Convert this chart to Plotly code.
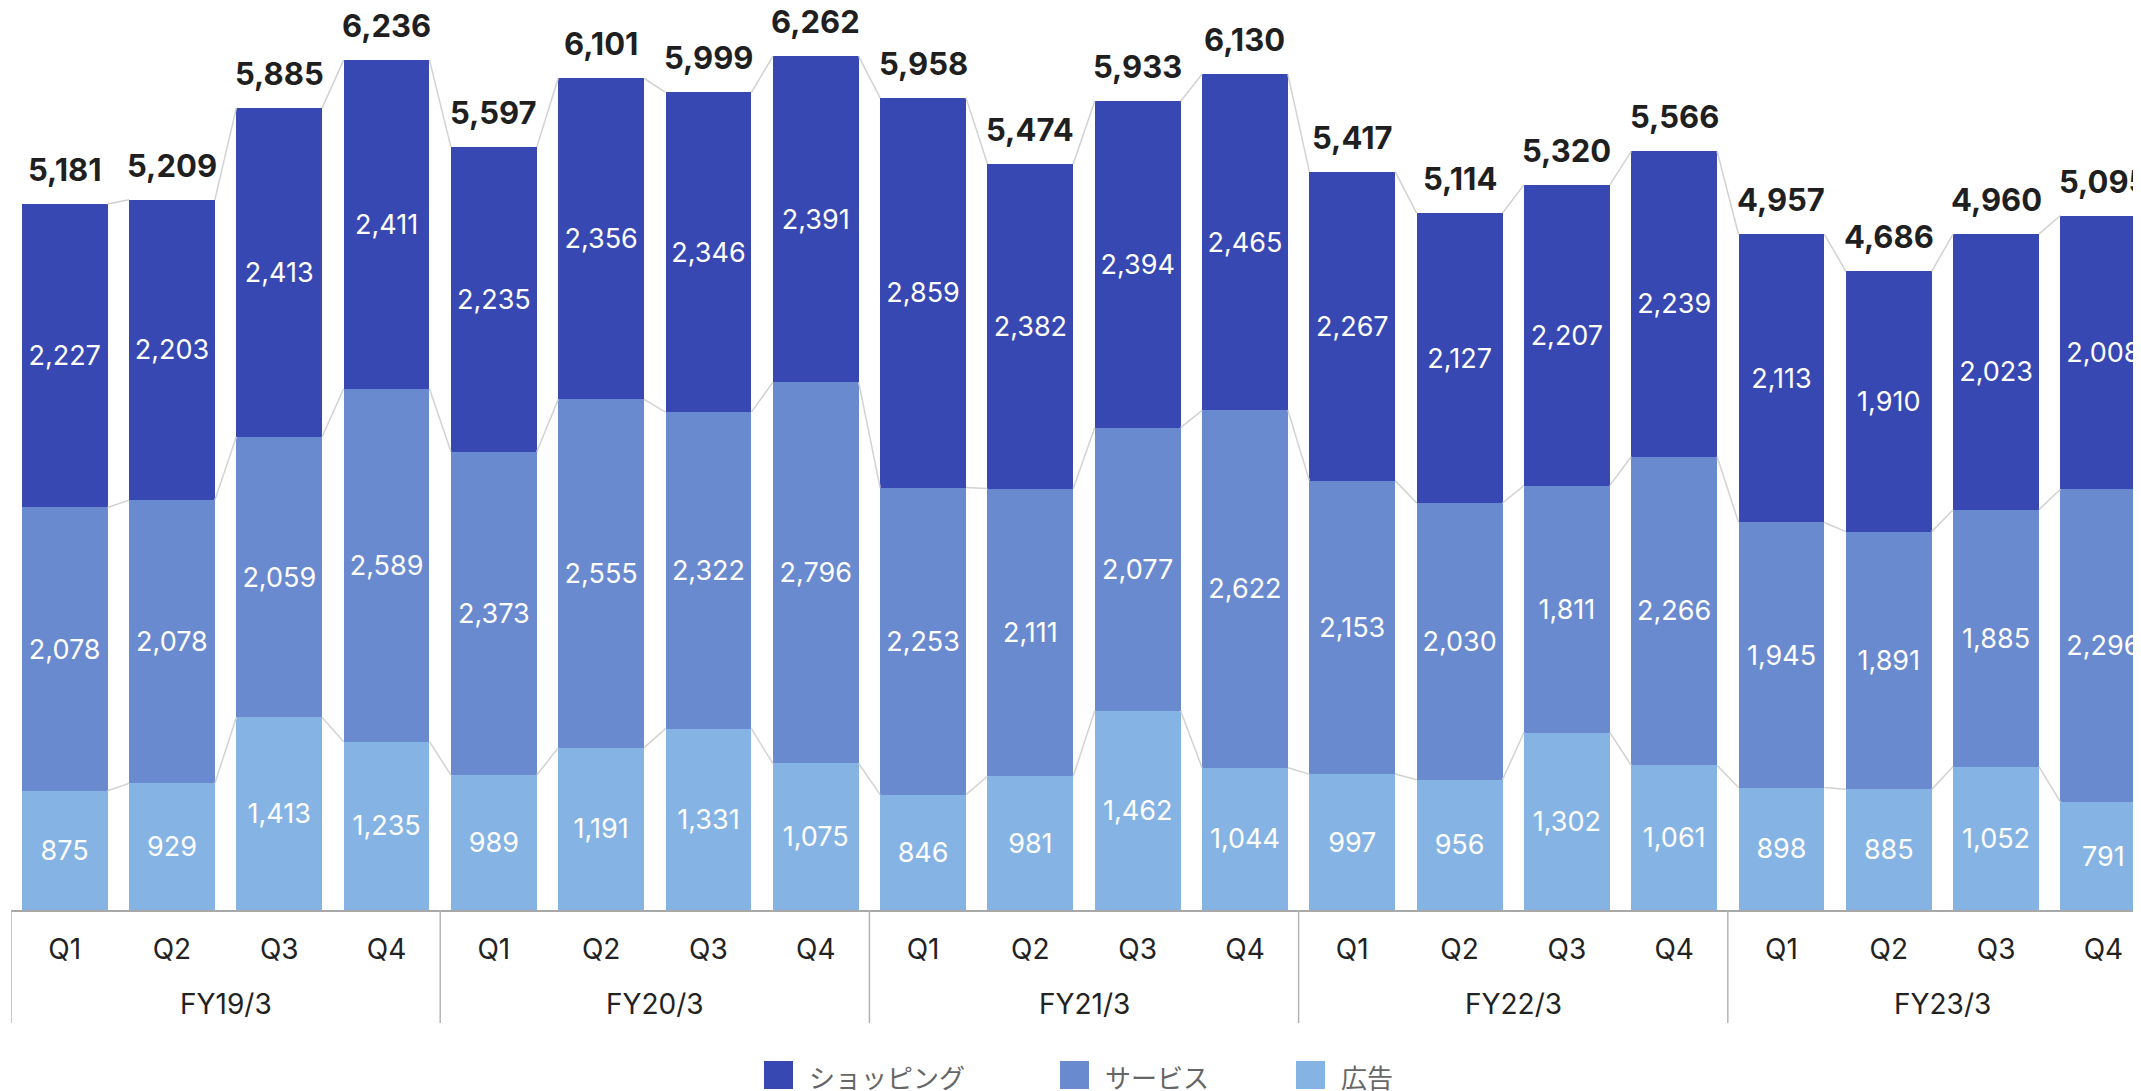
import plotly.graph_objects as go

# ---------------- data ----------------
fiscal_years = ["FY19/3", "FY20/3", "FY21/3", "FY22/3", "FY23/3"]
quarters = ["Q1", "Q2", "Q3", "Q4"]

ad = [875, 929, 1413, 1235,
      989, 1191, 1331, 1075,
      846, 981, 1462, 1044,
      997, 956, 1302, 1061,
      898, 885, 1052, 791]
service = [2078, 2078, 2059, 2589,
           2373, 2555, 2322, 2796,
           2253, 2111, 2077, 2622,
           2153, 2030, 1811, 2266,
           1945, 1891, 1885, 2296]
shopping = [2227, 2203, 2413, 2411,
            2235, 2356, 2346, 2391,
            2859, 2382, 2394, 2465,
            2267, 2127, 2207, 2239,
            2113, 1910, 2023, 2008]
totals = [5181, 5209, 5885, 6236,
          5597, 6101, 5999, 6262,
          5958, 5474, 5933, 6130,
          5417, 5114, 5320, 5566,
          4957, 4686, 4960, 5095]

series_names = ["ショッピング", "サービス", "広告"]

# ---------------- style ----------------
C_SHOP = "#3748B3"
C_SERV = "#6A8AD0"
C_AD = "#85B4E4"
BAR_WIDTH = 0.8
X_RANGE = [-0.5, 19.425]
Y_RANGE = [0, 6500]
NUM_FONT = "Inter, Roboto, sans-serif"
JP_FONT = "Noto Sans CJK JP, sans-serif"

W, H = 2141, 1091
PAGE_OFF = 8  # default body margin of the html page
ML, MR, MT, MB = 3, 0, 16, 189
pw, ph = W - ML - MR, H - MT - MB


def px2paper(px, py):
    """page pixel -> paper coords"""
    fx, fy = px - PAGE_OFF, py - PAGE_OFF
    return (fx - ML) / pw, (H - MB - fy) / ph


n = len(totals)
idx = list(range(n))
n_q = len(quarters)

fig = go.Figure()

stack = [(series_names[2], ad, C_AD),
         (series_names[1], service, C_SERV),
         (series_names[0], shopping, C_SHOP)]
for name, vals, color in stack:
    fig.add_bar(
        x=idx, y=vals, name=name, width=BAR_WIDTH,
        marker=dict(color=color, line=dict(width=0)),
        texttemplate="%{y:,}", textposition="inside",
        insidetextanchor="middle", constraintext="none",
        textfont=dict(color="white", size=27, family=NUM_FONT),
        showlegend=False, hoverinfo="skip",
    )

# connector lines between adjacent bars at every stack level
lvl1 = ad
lvl2 = [a + s for a, s in zip(ad, service)]
lvl3 = [a + s + h for a, s, h in zip(ad, service, shopping)]
half = BAR_WIDTH / 2
cx, cy = [], []
for lvl in (lvl1, lvl2, lvl3):
    for i in range(n - 1):
        cx += [idx[i] + half, idx[i + 1] - half, None]
        cy += [lvl[i], lvl[i + 1], None]
fig.add_scatter(x=cx, y=cy, mode="lines",
                line=dict(color="#d2d2d2", width=1.5),
                hoverinfo="skip", showlegend=False)

# totals on top
for i, t in zip(idx, totals):
    fig.add_annotation(
        x=i, y=lvl3[i], xref="x", yref="y", text=f"{t:,}",
        showarrow=False, yanchor="bottom", yshift=14,
        font=dict(size=31, color="#1f1f1f", family=NUM_FONT, weight="bold"),
    )

# fiscal-year group labels and dividers
_, fy_y = px2paper(0, 1004)
_, div_bottom = px2paper(0, 1023)
for g, fy in enumerate(fiscal_years):
    fig.add_annotation(x=g * n_q + (n_q - 1) / 2, y=fy_y, xref="x", yref="paper",
                       text=fy, showarrow=False, yanchor="middle",
                       font=dict(size=28, color="#222222", family=NUM_FONT))
for g in range(len(fiscal_years) + 1):
    xb = g * n_q - 0.5
    fig.add_shape(type="line", xref="x", yref="paper", x0=xb, x1=xb,
                  y0=0, y1=div_bottom, line=dict(color="#b4b4b4", width=1.5))

# custom legend
legend_items = [(series_names[0], C_SHOP), (series_names[1], C_SERV), (series_names[2], C_AD)]
leg_x = [764, 1060, 1296]  # page pixel positions
for (name, color), lx in zip(legend_items, leg_x):
    x0, y0 = px2paper(lx, 1061)
    x1, y1 = px2paper(lx + 29, 1089)
    fig.add_shape(type="rect", xref="paper", yref="paper",
                  x0=x0, x1=x1, y0=y1, y1=y0,
                  fillcolor=color, line=dict(width=0))
    tx, ty = px2paper(lx + 43, 1076)
    fig.add_annotation(x=tx, y=ty, xref="paper", yref="paper", text=name,
                       showarrow=False, xanchor="left", yanchor="middle",
                       font=dict(size=26, color="#666666", family=JP_FONT))

fig.update_layout(
    width=W, height=H,
    margin=dict(l=ML, r=MR, t=MT, b=MB, autoexpand=False),
    plot_bgcolor="white", paper_bgcolor="white",
    barmode="stack",
    showlegend=False,
    font=dict(family=NUM_FONT, color="#222222"),
    xaxis=dict(
        range=X_RANGE, tickvals=idx, ticktext=[q for _ in fiscal_years for q in quarters],
        showline=True, linecolor="#a8a8a8", linewidth=1.5,
        ticks="", showgrid=False, zeroline=False, ticklabelstandoff=14,
        tickfont=dict(size=28, color="#222222", family=NUM_FONT),
    ),
    yaxis=dict(range=Y_RANGE, visible=False, showgrid=False, zeroline=False),
)

fig.write_html("out.html")
